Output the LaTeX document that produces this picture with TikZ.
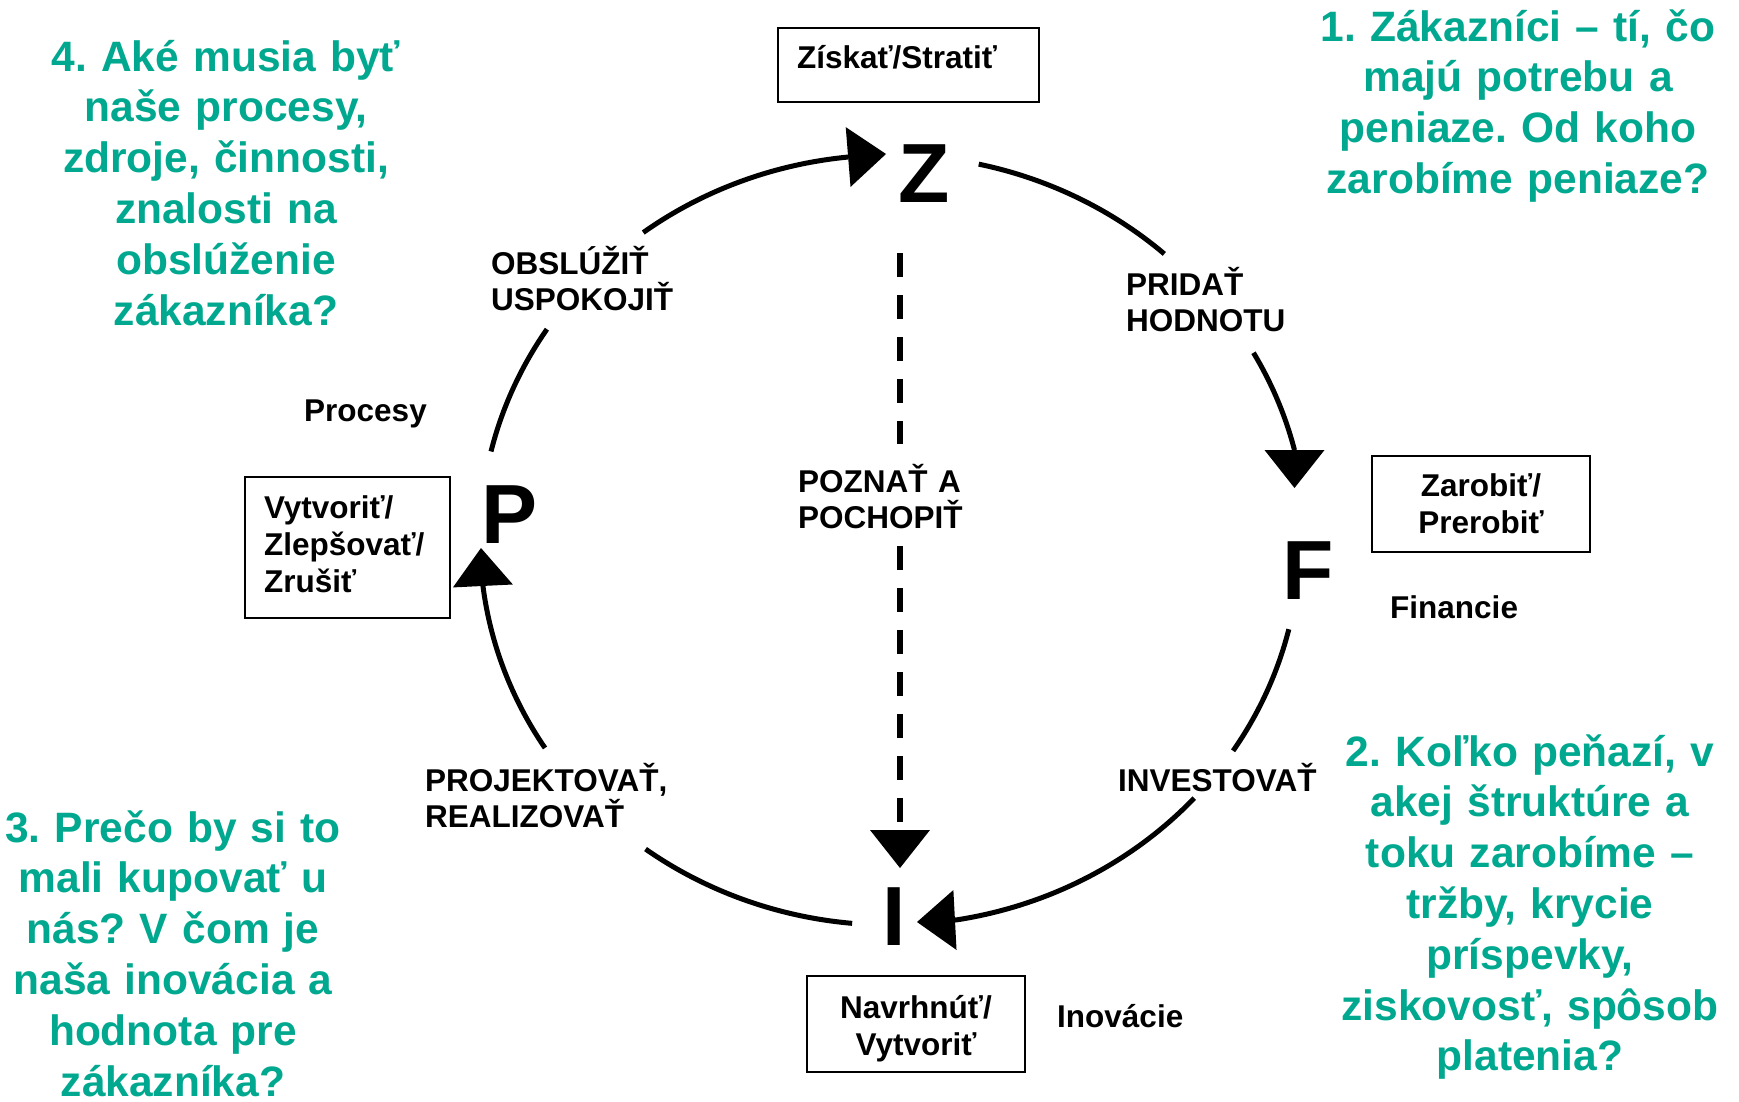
\documentclass[tikz,border=0pt]{standalone}
\usepackage{fontspec}
\setmainfont{Liberation Sans}
\usetikzlibrary{arrows.meta,bending}
\definecolor{qgreen}{HTML}{00A88F}
\frenchspacing
\newcommand\fgreen{\fontsize{42.5}{50.8}\selectfont\bfseries}
\newcommand\flab{\fontsize{31.5}{36.7}\selectfont\bfseries}
\newcommand\fbig{\fontsize{84}{90}\selectfont\bfseries}
\begin{document}
\begin{tikzpicture}[x=1pt,y=-1pt,
  q/.style={font=\fgreen, text=qgreen, align=center, text width=420pt, inner sep=0pt, anchor=base},
  lab/.style={font=\flab, align=left, text width=270pt, inner sep=0pt, anchor=base west},
  word/.style={font=\flab, inner sep=0pt, anchor=base west},
  letter/.style={font=\fbig, inner sep=0pt, anchor=base},
  box/.style={draw, line width=1.6pt, font=\flab, inner ysep=0pt},
  ring/.style={line width=5pt},
  dline/.style={line width=6pt, dash pattern=on 24pt off 18pt},
  tip/.style={-{Triangle[length=38pt,width=60pt,line width=0pt]}},
  ]
\useasboundingbox (0,0) rectangle (1739,1101);
\fill[white] (0,0) rectangle (1739,1101);

% green questions
\node[q] (q4) at (226,71) {4. Aké musia byť\\naše procesy,\\zdroje, činnosti,\\znalosti na\\obslúženie\\zákazníka?};
\node[q] (q1) at (1518,41) {1. Zákazníci – tí, čo\\majú potrebu a\\peniaze. Od koho\\zarobíme peniaze?};
\node[q] (q2) at (1530,766) {2. Koľko peňazí, v\\akej štruktúre a\\toku zarobíme –\\tržby, krycie\\príspevky,\\ziskovosť, spôsob\\platenia?};
\node[q] (q3) at (173,842) {3. Prečo by si to\\mali kupovať u\\nás? V čom je\\naša inovácia a\\hodnota pre\\zákazníka?};

% boxes
\node[box, minimum width=261pt, minimum height=74pt, text width=223pt, align=left, inner xsep=19pt, text depth=15.6pt] (bZ) at (908.5,65) {Získať/Stratiť};
\node[box, minimum width=218pt, minimum height=96pt, text width=200pt, align=center, inner xsep=9pt] (bF) at (1481,504) {Zarobiť/\\Prerobiť};
\node[box, minimum width=205pt, minimum height=141pt, text width=167pt, align=left, inner xsep=19pt, text depth=80pt] (bP) at (347.5,547.5) {Vytvoriť/\\Zlepšovať/\\Zrušiť};
\node[box, minimum width=218pt, minimum height=96pt, text width=200pt, align=center, inner xsep=9pt, text depth=34.5pt] (bI) at (916,1024) {Navrhnúť/\\Vytvoriť};

% letters
\node[letter] (Z) at (924,202) {Z};
\node[letter] (F) at (1308.5,599) {F};
\node[letter] (P) at (510,543) {P};
\node[letter] (I) at (894,945) {I};

% labels
\node[lab] (lObs) at (491,274) {OBSLÚŽIŤ\\USPOKOJIŤ};
\node[lab] (lPri) at (1126,295) {PRIDAŤ\\HODNOTU};
\node[lab] (lPoz) at (798,492) {POZNAŤ A\\POCHOPIŤ};
\node[lab] (lPro) at (425,791) {PROJEKTOVAŤ,\\REALIZOVAŤ};
\node[word] (lInv) at (1118,791) {INVESTOVAŤ};
\node[word] (wPro) at (304,421) {Procesy};
\node[word] (wFin) at (1390,618) {Financie};
\node[word] (wIno) at (1057,1027) {Inovácie};

% ring arcs
\coordinate (C) at (890,540);
\path (C) ++(193.3:410 and 385) coordinate (pz0);
\path (C) ++(233.0:410 and 385) coordinate (pz1);
\path (C) ++(282.5:410 and 385) coordinate (zf0);
\path (C) ++(330.9:416 and 385) coordinate (zf1);
\path (C) ++(13.4:410 and 385) coordinate (fi0);
\path (C) ++(42.1:410 and 385) coordinate (fi1);
\path (C) ++(95.3:410 and 385) coordinate (ip0);
\path (C) ++(147.3:410 and 385) coordinate (ip1);
\coordinate (tZ) at (886,154);
\coordinate (tF) at (1294.5,488);
\coordinate (tI) at (917,922);
\coordinate (tP) at (481,548);

\draw[ring] (pz0) arc[start angle=193.3, end angle=213.2, x radius=410, y radius=385];
\draw[ring, tip] (pz1) arc[start angle=233.0, end angle=264.1, x radius=410, y radius=385] -- (tZ);
\draw[ring] (zf0) arc[start angle=282.5, end angle=312.0, x radius=410, y radius=385];
\draw[ring, tip] (zf1) arc[start angle=330.9, end angle=346.5, x radius=416, y radius=385] -- (tF);
\draw[ring] (fi0) arc[start angle=13.4, end angle=33.2, x radius=410, y radius=385];
\draw[ring, tip] (fi1) arc[start angle=42.1, end angle=80.7, x radius=410, y radius=385] -- (tI);
\draw[ring] (ip0) arc[start angle=95.3, end angle=126.6, x radius=410, y radius=385];
\draw[ring, tip] (ip1) arc[start angle=147.3, end angle=173.3, x radius=410, y radius=385] -- (tP);

% dashed link Z -> I
\coordinate (d0) at (900,253);
\coordinate (d1) at (900,444);
\coordinate (d2) at (900,546);
\coordinate (d3) at (900,868);
\draw[dline] (d0) -- (d1);
\draw[dline, tip] (d2) -- (d3);
\end{tikzpicture}
\end{document}
